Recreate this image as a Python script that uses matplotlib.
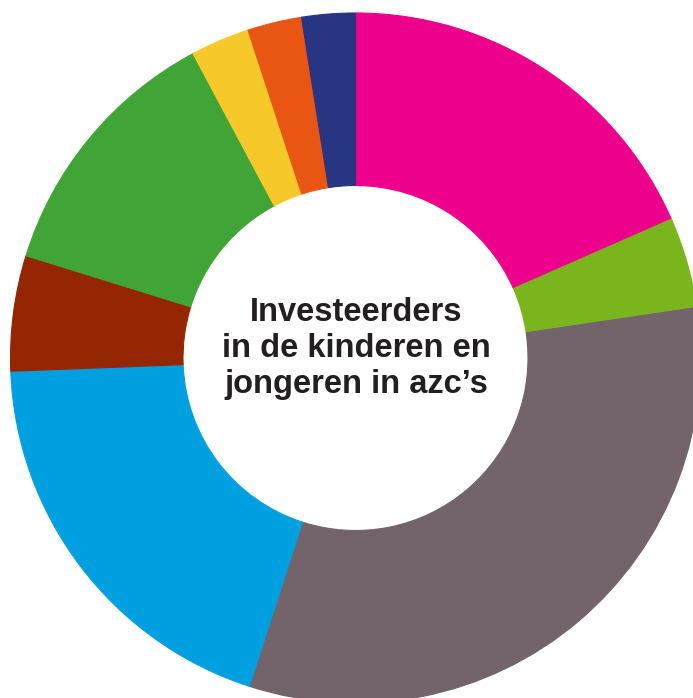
import matplotlib
matplotlib.use("Agg")
import matplotlib.pyplot as plt

labels = ["magenta", "lichtgroen", "grijs", "blauw", "donkerrood", "groen", "geel", "oranje", "donkerblauw"]
values = [18.4, 4.25, 32.3, 19.4, 5.4, 12.4, 2.76, 2.54, 2.5]
colors = ["#EC008C", "#7AB51D", "#72646A", "#009FE0", "#952603", "#41A437", "#F7C82A", "#E95513", "#283583"]
center_lines = ["Investeerders", "in de kinderen en", "jongeren in azc\u2019s"]

W, H = 693, 698
fig = plt.figure(figsize=(W / 100, H / 100), dpi=100)
cx, cy, r = 355.5, 358, 345
ax = fig.add_axes([(cx - r) / W, (H - cy - r) / H, 2 * r / W, 2 * r / H])
wedges, _ = ax.pie(values, colors=colors, startangle=90, counterclock=False, radius=1,
                   wedgeprops=dict(width=0.5, linewidth=0.8))
for w, c in zip(wedges, colors):
    w.set_edgecolor(c)
ax.set_xlim(-1, 1)
ax.set_ylim(-1, 1)
ax.set_aspect("equal")
ax.axis("off")
baselines_px = [321, 357, 393]
for line, bp in zip(center_lines, baselines_px):
    ax.text(0.002, (cy - bp) / r, line, ha="center", va="baseline", fontsize=23.5,
            fontweight="bold", family=["Liberation Sans", "DejaVu Sans"], color="#231F20")
fig.savefig("out.png", dpi=100)
